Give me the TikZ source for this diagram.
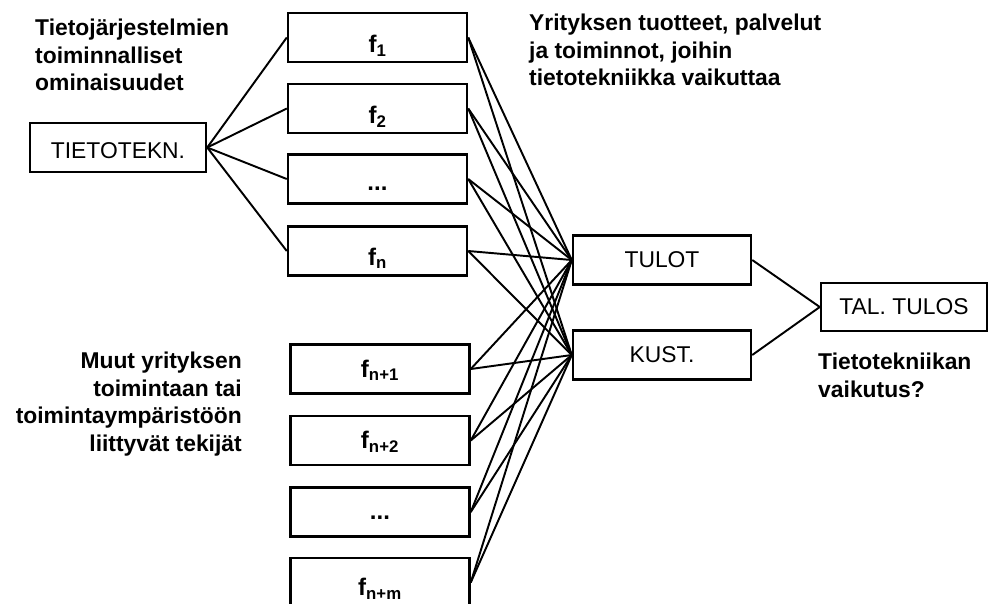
\documentclass[tikz,border=0pt]{standalone}
\usepackage{fontspec}
\setmainfont{Liberation Sans}
\begin{document}
\begin{tikzpicture}[x=0.03cm,y=-0.03cm,
  box/.style={draw, line width=2.1pt, fill=white, inner sep=0pt, font=\fontsize{19.5}{23.5}\selectfont},
  fbox/.style={box, minimum width=5.37cm, minimum height=1.47cm, font=\fontsize{20.5}{23.5}\selectfont\bfseries},
  bl/.style 2 args={text height=#1, text depth=#2},
  rbox/.style={box, minimum width=5.34cm, minimum height=1.47cm},
  lbl/.style={inner sep=0pt, font=\fontsize{19.5}{23.4}\selectfont\bfseries},
  conn/.style={line width=1.65pt}]
\useasboundingbox (0,0) rectangle (989,603);
\clip (0,0) rectangle (989,603);
% boxes
\node[box, minimum width=5.28cm, minimum height=1.47cm, bl={0.965cm}{0.335cm}] (tt) at (118,147.5) {TIETOTEKN.};
\node[fbox, bl={1.1cm}{0.2cm}] (f1) at (377.5,37.5) {f\textsubscript{1}};
\node[fbox, bl={1.1cm}{0.2cm}] (f2) at (377.5,108.5) {f\textsubscript{2}};
\node[fbox, bl={0.98cm}{0.32cm}] (f3) at (377.5,179) {...};
\node[fbox, bl={1.07cm}{0.23cm}] (fn) at (377.5,251) {f\textsubscript{n}};
\node[fbox, bl={0.89cm}{0.41cm}] (g1) at (380,369) {f\textsubscript{n+1}};
\node[fbox, bl={0.89cm}{0.41cm}] (g2) at (380,440.5) {f\textsubscript{n+2}};
\node[fbox, bl={0.86cm}{0.44cm}] (g3) at (380,512) {...};
\node[fbox, bl={1.04cm}{0.26cm}] (gm) at (380,582.5) {f\textsubscript{n+m}};
\node[rbox] (tulot) at (662,260) {TULOT};
\node[rbox] (kust) at (662,355) {KUST.};
\node[box, minimum width=4.98cm, minimum height=1.44cm] (tal) at (904,307) {TAL. TULOS};
% texts
\node[lbl, anchor=north west, align=left] (t1) at (35,19) {Tietojärjestelmien\\toiminnalliset\\ominaisuudet};
\node[lbl, anchor=north west, align=left] (t2) at (529,14) {Yrityksen tuotteet, palvelut\\ja toiminnot, joihin\\tietotekniikka vaikuttaa};
\node[lbl, anchor=north east, align=right] (t3) at (242,352) {Muut yrityksen\\toimintaan tai\\toimintaympäristöön\\liittyvät tekijät};
\node[lbl, anchor=north west, align=left] (t4) at (818,353) {Tietotekniikan\\vaikutus?};
% connectors
\foreach \f in {f1,f2,f3,fn} \draw[conn] (tt.east) -- (\f.west);
\foreach \f in {f1,f2,f3,fn,g1,g2,g3,gm} {
  \draw[conn] (\f.east) -- (tulot.west);
  \draw[conn] (\f.east) -- (kust.west);
}
\draw[conn] (tulot.east) -- (tal.west);
\draw[conn] (kust.east) -- (tal.west);
\end{tikzpicture}
\end{document}
